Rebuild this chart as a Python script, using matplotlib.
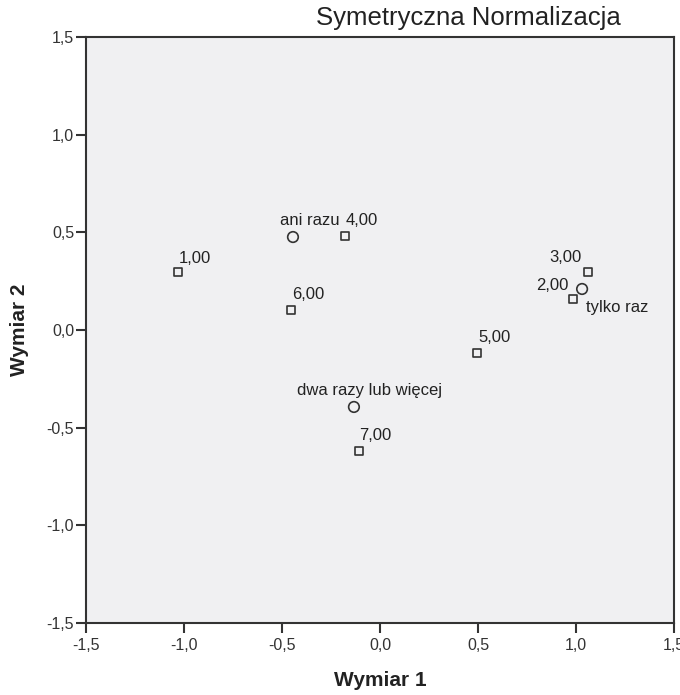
import matplotlib
matplotlib.use("Agg")
import matplotlib.pyplot as plt

plt.rcParams['font.family'] = ['Liberation Sans', 'DejaVu Sans']

# Row points (squares)
row_labels = ["1,00", "2,00", "3,00", "4,00", "5,00", "6,00", "7,00"]
row_x = [-1.031, 0.985, 1.061, -0.179, 0.495, -0.454, -0.107]
row_y = [0.297, 0.159, 0.297, 0.482, -0.118, 0.102, -0.620]

# Column points (circles)
col_labels = ["ani razu", "tylko raz", "dwa razy lub więcej"]
col_x = [-0.444, 1.031, -0.133]
col_y = [0.476, 0.210, -0.394]

ticks = [-1.5, -1.0, -0.5, 0.0, 0.5, 1.0, 1.5]
tick_labels = ["-1,5", "-1,0", "-0,5", "0,0", "0,5", "1,0", "1,5"]

# label offsets in pixels (dx, dy, ha)
row_off = {"1,00": (1, 9, 'left'), "2,00": (-5, 9, 'right'), "3,00": (-6, 10, 'right'),
           "4,00": (1, 11, 'left'), "5,00": (1, 11, 'left'), "6,00": (1, 11, 'left'),
           "7,00": (0, 11, 'left')}
col_off = {"ani razu": (-13, 12, 'left'), "tylko raz": (4, -23, 'left'),
           "dwa razy lub więcej": (-57, 12, 'left')}

W, H = 680, 695
L, R, T, B = 86, 674, 37, 623

fig = plt.figure(figsize=(6.8, 6.95), dpi=100)
ax = fig.add_axes([L / W, (H - B) / H, (R - L) / W, (B - T) / H])
ax.set_facecolor('#f0f0f2')

ax.scatter(row_x, row_y, marker='s', s=32, facecolors='none', edgecolors='#333333',
           linewidths=1.2, zorder=3)
ax.scatter(col_x, col_y, marker='o', s=58, facecolors='none', edgecolors='#333333',
           linewidths=1.2, zorder=3)

for lab, x, y in zip(row_labels, row_x, row_y):
    dx, dy, ha = row_off[lab]
    ax.annotate(lab, (x, y), xytext=(dx, dy), textcoords='offset pixels', ha=ha,
                va='baseline', fontsize=12, color='#222222')
for lab, x, y in zip(col_labels, col_x, col_y):
    dx, dy, ha = col_off[lab]
    ax.annotate(lab, (x, y), xytext=(dx, dy), textcoords='offset pixels', ha=ha,
                va='baseline', fontsize=12, color='#222222')

ax.set_xlim(-1.5, 1.5)
ax.set_ylim(-1.5, 1.5)
ax.set_xticks(ticks)
ax.set_xticklabels(tick_labels)
ax.set_yticks(ticks)
ax.set_yticklabels(tick_labels)
ax.tick_params(direction='out', length=7, width=1.5, color='#333333', labelsize=11.5,
               labelcolor='#333333')
ax.tick_params(axis='x', pad=4)
ax.tick_params(axis='y', pad=1.5)
for sp in ax.spines.values():
    sp.set_color('#333333')
    sp.set_linewidth(1.5)

fig.text(380 / W, 1 - 680 / H, "Wymiar 1", ha='center', va='center', fontsize=15,
         fontweight='bold', color='#222222')
fig.text(20 / W, 1 - 330 / H, "Wymiar 2", ha='center', va='center', rotation=90,
         fontsize=15, fontweight='bold', color='#222222')

fig.text(468 / W, 1 - 25 / H, "Symetryczna Normalizacja", ha='center', va='baseline',
         fontsize=18.5, color='#222222')

fig.savefig("out.png", dpi=100)
